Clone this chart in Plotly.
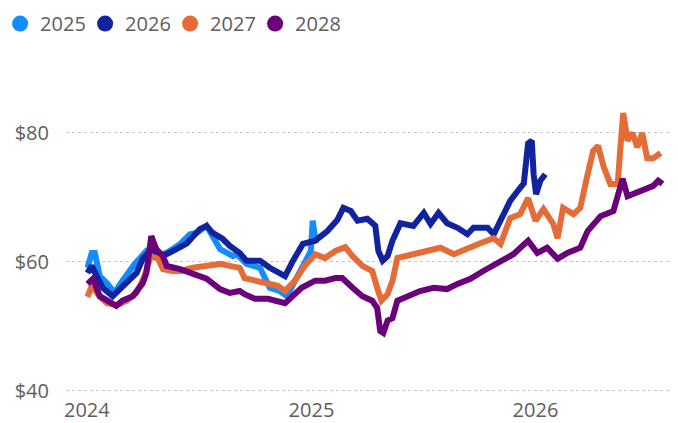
import plotly.graph_objects as go

# ---- data ----
dates_2025 = ["2024-01-02","2024-01-09","2024-01-14","2024-01-22","2024-02-03","2024-02-15","2024-02-28",
              "2024-03-19","2024-04-07","2024-04-23","2024-05-10","2024-06-01","2024-06-17","2024-06-28",
              "2024-07-14","2024-07-24","2024-08-05","2024-08-26","2024-09-01","2024-09-17","2024-10-09",
              "2024-10-25","2024-11-10","2024-11-22","2024-12-08","2024-12-24","2024-12-31","2025-01-03",
              "2025-01-08"]
vals_2025 = [59.1,61.4,61.4,57.8,56.7,55.2,57.1,59.7,61.7,60.9,61.4,62.8,64.3,64.5,65.6,64.0,62.0,60.9,61.2,
             59.7,59.1,56.0,55.5,54.7,57.5,60.2,61.7,66.4,62.9]

dates_2026 = ["2024-01-02","2024-01-09","2024-01-17","2024-01-27","2024-02-12","2024-02-20","2024-03-06",
              "2024-03-22","2024-04-01","2024-04-16","2024-04-29","2024-05-10","2024-05-26","2024-06-12",
              "2024-07-03","2024-07-14","2024-07-24","2024-08-09","2024-08-21","2024-09-06","2024-09-17",
              "2024-10-09","2024-10-25","2024-11-10","2024-11-19","2024-12-02","2024-12-18","2025-01-07",
              "2025-01-27","2025-02-12","2025-02-22","2025-03-06","2025-03-17","2025-04-02","2025-04-15",
              "2025-04-20","2025-04-27","2025-05-05","2025-05-13","2025-05-26","2025-06-16","2025-07-03",
              "2025-07-14","2025-07-27","2025-08-10","2025-08-27","2025-09-12","2025-09-22","2025-10-15",
              "2025-10-25","2025-11-05","2025-11-21","2025-12-03","2025-12-13","2025-12-20","2025-12-26",
              "2025-12-29","2026-01-02","2026-01-09","2026-01-17"]
vals_2026 = [58.3,59.4,57.8,56.0,54.7,55.5,56.7,58.3,60.5,62.0,60.9,61.2,62.0,62.9,65.1,65.6,64.5,63.6,62.5,
             61.4,60.2,60.2,59.1,58.1,57.8,60.2,62.8,63.3,64.8,66.5,68.4,67.9,66.4,66.7,65.6,61.7,60.2,60.9,
             63.3,66.0,65.6,67.6,65.9,67.6,66.0,65.3,64.3,65.3,65.3,64.3,66.4,69.5,71.0,72.2,78.4,78.8,73.6,
             70.5,72.6,73.6]

dates_2027 = ["2024-01-02","2024-01-09","2024-01-22","2024-02-03","2024-02-19","2024-03-06","2024-03-22",
              "2024-04-04","2024-04-14","2024-04-26","2024-05-04","2024-05-19","2024-06-01","2024-06-22",
              "2024-07-15","2024-08-05","2024-08-21","2024-09-06","2024-09-14","2024-10-01","2024-10-22",
              "2024-11-07","2024-11-19","2024-12-05","2024-12-21","2025-01-07","2025-01-23","2025-02-09",
              "2025-02-25","2025-03-09","2025-03-25","2025-04-10","2025-04-18","2025-04-25","2025-05-05",
              "2025-05-13","2025-05-21","2025-06-16","2025-07-09","2025-07-30","2025-08-21","2025-09-12",
              "2025-10-03","2025-10-25","2025-11-05","2025-11-21","2025-12-07","2025-12-20","2026-01-01",
              "2026-01-14","2026-01-30","2026-02-06","2026-02-15","2026-03-04","2026-03-15","2026-03-27",
              "2026-04-05","2026-04-13","2026-04-22","2026-05-03","2026-05-15","2026-05-19","2026-05-24",
              "2026-05-31","2026-06-08","2026-06-16","2026-06-24","2026-07-02","2026-07-12","2026-07-24"]
vals_2027 = [54.6,56.3,54.6,53.6,53.3,54.0,55.2,57.8,60.9,60.5,58.9,58.6,58.6,59.1,59.4,59.7,59.4,59.1,57.5,
             57.1,56.7,56.3,55.5,57.1,59.4,61.2,60.6,61.7,62.3,60.9,59.4,58.6,56.0,54.0,55.0,57.1,60.6,61.2,
             61.7,62.2,61.2,62.2,62.9,63.7,62.8,66.8,67.4,69.9,66.4,68.2,65.9,63.7,68.4,67.4,68.4,73.6,77.2,
             78.0,74.8,72.1,72.1,77.2,83.1,78.8,80.0,77.8,80.0,76.1,76.1,76.9]

dates_2028 = ["2024-01-02","2024-01-11","2024-01-22","2024-02-02","2024-02-18","2024-02-28","2024-03-16",
              "2024-04-01","2024-04-07","2024-04-15","2024-04-23","2024-05-04","2024-05-10","2024-06-01",
              "2024-06-22","2024-07-14","2024-08-05","2024-08-21","2024-09-06","2024-09-14","2024-10-01",
              "2024-10-22","2024-11-19","2024-12-01","2024-12-16","2025-01-07","2025-01-23","2025-02-09",
              "2025-02-20","2025-03-09","2025-03-25","2025-04-10","2025-04-18","2025-04-23","2025-04-28",
              "2025-05-05","2025-05-13","2025-05-21","2025-06-06","2025-06-27","2025-07-19","2025-08-10",
              "2025-08-27","2025-09-17","2025-10-08","2025-10-31","2025-11-26","2025-12-20","2026-01-04",
              "2026-01-20","2026-02-06","2026-02-22","2026-03-15","2026-03-27","2026-04-17","2026-05-08",
              "2026-05-23","2026-05-31","2026-06-21","2026-07-12","2026-07-20","2026-07-27"]
vals_2028 = [56.6,57.4,54.7,54.0,53.2,54.0,54.7,56.7,58.3,64.0,62.0,60.9,59.4,58.9,58.1,57.4,55.8,55.2,55.5,
             55.0,54.3,54.3,53.6,54.7,56.0,57.1,57.1,57.5,57.5,56.0,54.7,54.0,52.9,49.3,49.0,50.9,51.3,54.0,
             54.7,55.5,56.0,55.8,56.6,57.4,58.6,59.7,61.2,63.3,61.4,62.2,60.5,61.4,62.2,64.8,67.1,67.9,72.9,
             70.2,71.0,71.8,72.6,72.1]

series_names = ["2025", "2026", "2027", "2028"]
series_colors = ["#118DFF", "#12239E", "#E66C37", "#6B007B"]
series_dates = [dates_2025, dates_2026, dates_2027, dates_2028]
series_vals = [vals_2025, vals_2026, vals_2027, vals_2028]

y_tick_vals = [40, 60, 80]
y_tick_text = ["$40", "$60", "$80"]

FONT = "Segoe UI, Open Sans, sans-serif"
GRAY = "#605E5C"

fig = go.Figure()
for name, col, d, v in zip(series_names, series_colors, series_dates, series_vals):
    fig.add_trace(go.Scatter(x=d, y=v, mode="lines", name=name,
                             line=dict(color=col, width=6), showlegend=False,
                             hoverinfo="x+y+name"))
# legend entries with circle markers
for name, col in zip(series_names, series_colors):
    fig.add_trace(go.Scatter(x=[None], y=[None], mode="markers", name=name,
                             marker=dict(color=col, size=16, symbol="circle"),
                             showlegend=True))

fig.update_layout(
    width=670, height=415,
    margin=dict(l=58, r=2, t=53, b=27, autoexpand=False),
    paper_bgcolor="white", plot_bgcolor="white",
    font=dict(family=FONT, size=20, color=GRAY),
    legend=dict(orientation="h", x=-0.108, y=1.17, xref="paper", yref="paper",
                xanchor="left", yanchor="top", font=dict(size=20, color=GRAY),
                itemsizing="trace", tracegroupgap=0, itemwidth=30,
                entrywidth=40, entrywidthmode="pixels",
                bgcolor="rgba(0,0,0,0)"),
    showlegend=True,
)
fig.update_xaxes(type="date", range=["2023-11-28", "2026-08-18"],
                 tickvals=["2024-01-01", "2025-01-01", "2026-01-01"],
                 tickformat="%Y", showgrid=False, zeroline=False, showline=False,
                 ticks="", automargin=False, tickfont=dict(size=20, color=GRAY))
fig.update_yaxes(range=[39.22, 91.16], tickvals=y_tick_vals, ticktext=y_tick_text,
                 showgrid=True, gridcolor="#C8C6C4", griddash="dot", gridwidth=1,
                 zeroline=False, showline=False, ticks="outside", ticklen=12,
                 automargin=False,
                 tickcolor="rgba(0,0,0,0)", tickfont=dict(size=20, color=GRAY))

fig.write_html("out.html")
